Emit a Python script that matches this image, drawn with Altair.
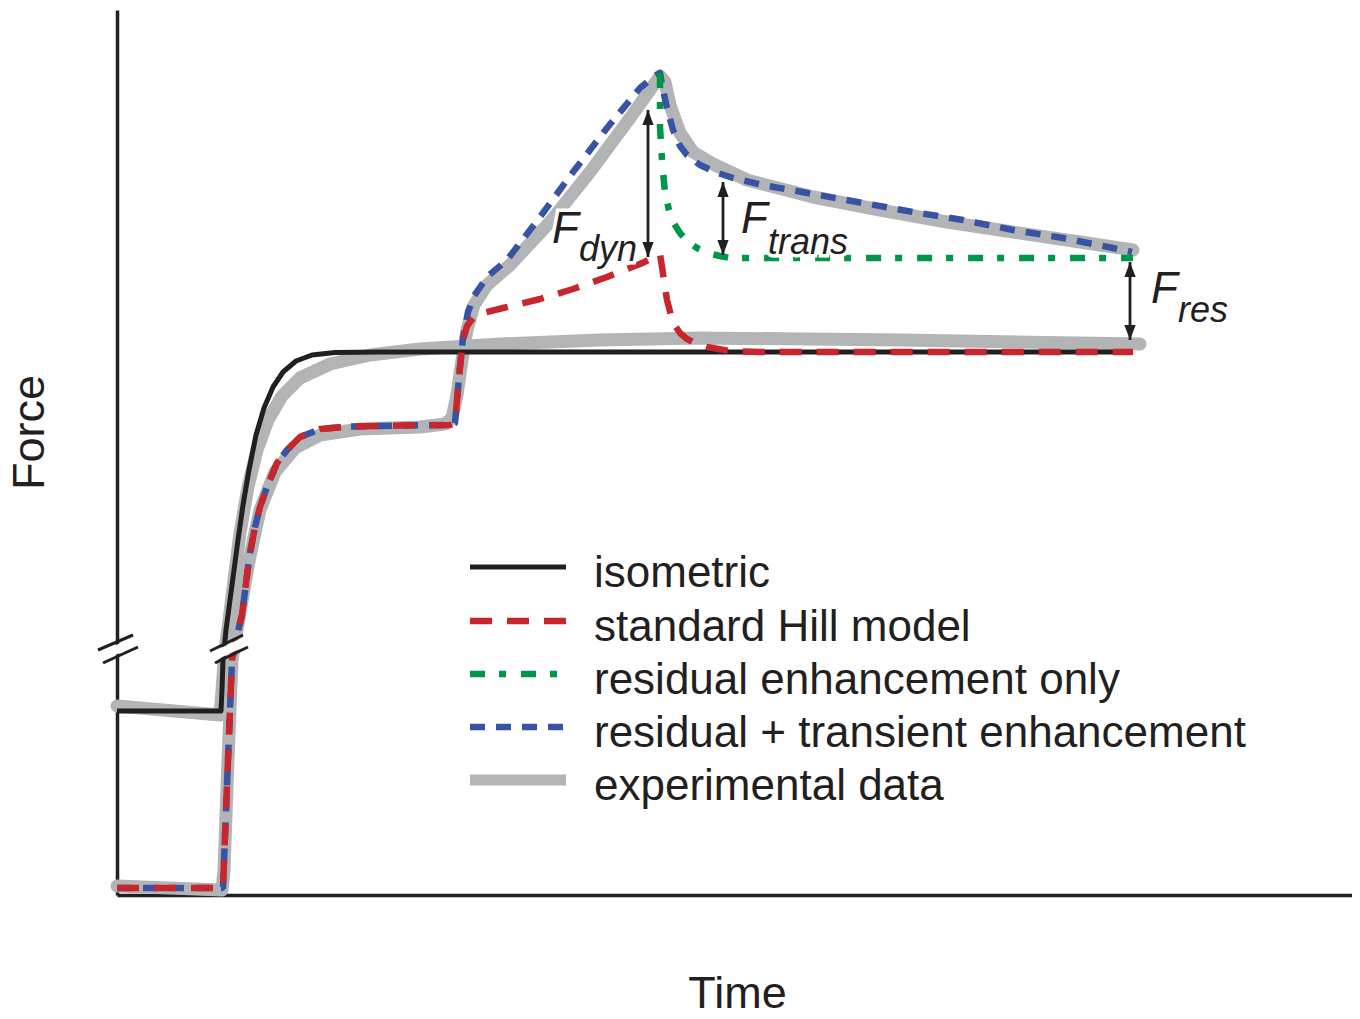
import altair as alt
import pandas as pd

# ---------------- data (time / force, arbitrary units) ----------------
iso_t = [117, 221, 222, 223, 226, 230, 234, 238, 243, 249, 256, 264, 273, 283, 296, 312, 335, 380, 1133]
iso_f = [184, 184, 205, 235, 265, 295, 325, 355, 390, 425, 460, 487, 508, 523, 534, 540, 542.5, 543, 543]

hill_t = [117, 222, 223, 228, 232, 237, 242, 246, 250, 255, 260, 267, 277, 287, 300, 320, 350, 400, 450, 455,
          457, 460, 463, 467, 473, 483, 503, 540, 573, 607, 640, 657, 660, 662, 667, 673, 680, 687, 697, 707,
          730, 760, 1133]
hill_f = [7, 7, 8, 135, 235, 260, 280, 312, 342, 368, 388, 408, 432, 445, 458, 466, 468.5, 469.5, 470, 472,
          495, 528, 555, 569, 577, 582, 587, 596, 606, 618, 631, 639, 641, 628, 595, 572, 562, 556, 551, 548,
          544, 543, 543]

full_t = [117, 222, 223, 228, 232, 237, 242, 246, 250, 255, 260, 267, 277, 287, 300, 320, 350, 400, 450, 455,
          457, 460, 463, 468, 474, 487, 507, 540, 573, 607, 640, 655, 660, 663, 667, 673, 680, 687, 700, 715,
          733, 763, 813, 863, 913, 963, 1013, 1063, 1113, 1132]
full_f = [7, 7, 8, 135, 235, 260, 280, 312, 342, 368, 388, 408, 432, 445, 458, 466, 468.5, 469.5, 470, 472,
          495, 528, 557, 583, 599, 618, 635, 678, 723, 767, 807, 819, 822, 805, 787, 765, 749, 740, 730, 723,
          717, 710, 701, 692, 683, 675, 665, 657, 647, 643]

res_t = [660, 660, 660, 662, 665, 669, 673, 680, 687, 697, 707, 720, 730, 1133]
res_f = [822, 795, 768, 735, 702, 685, 673, 662, 654, 647, 642, 639, 637, 637]

exp_iso_t = [117, 220, 222, 225, 229, 234, 240, 248, 257, 268, 282, 300, 330, 370, 420, 500, 600, 700, 900, 1140]
exp_iso_f = [189, 180, 205, 245, 275, 315, 362, 408, 445, 475, 499, 517, 531, 540, 546, 551, 555, 557, 555, 551]

exp_str_t = [117, 222, 224, 228, 232, 237, 243, 250, 260, 275, 295, 320, 360, 420, 445, 452, 457, 462, 467, 474,
             487, 510, 550, 590, 630, 650, 660, 665, 670, 680, 693, 713, 747, 813, 880, 947, 1013, 1080, 1133]
exp_str_f = [9, 5, 25, 135, 235, 265, 300, 339, 385, 423, 447, 460, 466, 468, 471, 477, 500, 535, 565, 590,
             610, 630, 673, 723, 777, 805, 819, 813, 790, 762, 743, 731, 715, 698, 685, 673, 663, 653, 645]

# force-difference arrows
arrow_t = [648, 723, 1130]
arrow_top = [785, 713, 633]
arrow_bot = [638, 640, 555]

# annotation labels
lab_main = ["F", "F", "F"]
lab_sub = ["dyn", "trans", "res"]
lab_main_t = [552, 741, 1151]
lab_main_f = [652, 662, 592]
lab_sub_t = [579, 768, 1178]
lab_sub_f = [634, 641, 573]

# axis-break marks
brk_t1 = [98, 103, 210, 215]
brk_f1 = [245, 232, 244, 232]
brk_t2 = [133, 138, 243, 248]
brk_f2 = [260, 248, 260, 248]
gap_t1 = [100, 212]
gap_f1 = [238, 238]
gap_t2 = [136, 246]
gap_f2 = [254, 254]

# legend
leg_labels = ["isometric", "standard Hill model", "residual enhancement only",
              "residual + transient enhancement", "experimental data"]
leg_line_f = [328, 274, 221, 168, 115]
leg_text_f = [308, 254, 201, 148, 95]
LEG_X0, LEG_X1, LEG_TX = 470, 566, 594

# ---------------- styles ----------------
INK = "#231f20"
RED = "#c8262d"
GREEN = "#00964a"
BLUE = "#3953a4"
GRAY = "#b3b4b6"
FONT = "Liberation Sans"

X = alt.Scale(domain=[117, 1352], nice=False, zero=False)
Y = alt.Scale(domain=[0, 885], nice=False, zero=False)

x_axis = alt.Axis(title="Time", labels=False, ticks=False, grid=False, domainColor=INK, domainWidth=3.5,
                  titleFont=FONT, titleFontSize=45, titleFontWeight="normal", titleColor=INK,
                  titleX=620, titleY=112, titleAlign="center", titleBaseline="alphabetic")
y_axis = alt.Axis(title="Force", labels=False, ticks=False, grid=False, domainColor=INK, domainWidth=3.5,
                  titleFont=FONT, titleFontSize=45, titleFontWeight="normal", titleColor=INK,
                  titleAngle=270, titleX=-74, titleY=422, titleAlign="center", titleBaseline="alphabetic")


def XE(field):
    return alt.X(field, scale=X, axis=x_axis)


def YE(field):
    return alt.Y(field, scale=Y, axis=y_axis)


def df_line(t, f):
    return pd.DataFrame({"t": t, "f": f, "i": list(range(len(t)))})


def line(t, f, color, width, dash=None, cap="butt"):
    kw = dict(color=color, strokeWidth=width, strokeCap=cap, strokeJoin="round", clip=False)
    if dash:
        kw["strokeDash"] = dash
    return alt.Chart(df_line(t, f)).mark_line(**kw).encode(x=XE("t:Q"), y=YE("f:Q"), order="i:Q")


def rules(t1, f1, t2, f2, color, width, cap="butt"):
    d = pd.DataFrame({"t1": t1, "f1": f1, "t2": t2, "f2": f2})
    return alt.Chart(d).mark_rule(color=color, strokeWidth=width, strokeCap=cap, clip=False).encode(
        x=XE("t1:Q"), y=YE("f1:Q"), x2="t2:Q", y2="f2:Q")


layers = []
# experimental data (gray, thick)
layers.append(line(exp_iso_t, exp_iso_f, GRAY, 13, cap="round"))
layers.append(line(exp_str_t, exp_str_f, GRAY, 13, cap="round"))
# models
layers.append(line(iso_t, iso_f, INK, 5))
layers.append(line(full_t, full_f, BLUE, 6.5, dash=[15, 11]))
layers.append(line(hill_t, hill_f, RED, 6.5, dash=[22, 15]))
layers.append(line(res_t, res_f, GREEN, 6.5, dash=[15, 14, 7, 15]))

# axis breaks
layers.append(rules(gap_t1, gap_f1, gap_t2, gap_f2, "white", 9))
layers.append(rules(brk_t1, brk_f1, brk_t2, brk_f2, INK, 3))

# arrows
layers.append(rules(arrow_t, arrow_top, arrow_t, arrow_bot, INK, 2.8))
arr_df = pd.DataFrame({"t": arrow_t, "top": arrow_top, "bot": arrow_bot})
layers.append(alt.Chart(arr_df).mark_point(shape="M0,0L0.75,2L-0.75,2Z", size=225, filled=True,
                                           color=INK, opacity=1, strokeWidth=0, clip=False).encode(
    x=XE("t:Q"), y=YE("top:Q")))
layers.append(alt.Chart(arr_df).mark_point(shape="M0,0L0.75,-2L-0.75,-2Z", size=225, filled=True,
                                           color=INK, opacity=1, strokeWidth=0, clip=False).encode(
    x=XE("t:Q"), y=YE("bot:Q")))

# labels (with white halo)
main_df = pd.DataFrame({"t": lab_main_t, "f": lab_main_f, "s": lab_main})
sub_df = pd.DataFrame({"t": lab_sub_t, "f": lab_sub_f, "s": lab_sub})
for d, fs in ((main_df, 44), (sub_df, 36)):
    layers.append(alt.Chart(d).mark_text(align="left", baseline="alphabetic", font=FONT, fontSize=fs,
                                         fontStyle="italic", stroke="white", strokeWidth=7, color="white",
                                         clip=False).encode(x=XE("t:Q"), y=YE("f:Q"), text="s:N"))
for d, fs in ((main_df, 44), (sub_df, 36)):
    layers.append(alt.Chart(d).mark_text(align="left", baseline="alphabetic", font=FONT, fontSize=fs,
                                         fontStyle="italic", color=INK, clip=False).encode(
        x=XE("t:Q"), y=YE("f:Q"), text="s:N"))

# legend
leg_styles = [(INK, 5, None), (RED, 6.5, [22, 15]), (GREEN, 6.5, [15, 14, 7, 15]),
              (BLUE, 6.5, [15, 11]), (GRAY, 11, None)]
for (c, w, dash), fy in zip(leg_styles, leg_line_f):
    layers.append(line([LEG_X0, LEG_X1], [fy, fy], c, w, dash=dash))
leg_df = pd.DataFrame({"t": [LEG_TX] * len(leg_labels), "f": leg_text_f, "s": leg_labels})
layers.append(alt.Chart(leg_df).mark_text(align="left", baseline="alphabetic", font=FONT, fontSize=44,
                                          color=INK, clip=False).encode(
    x=XE("t:Q"), y=YE("f:Q"), text="s:N"))

chart = alt.layer(*layers).properties(
    width=1235, height=885,
    autosize=alt.AutoSizeParams(type="none"),
    padding={"left": 109, "top": 2, "right": 0, "bottom": 114},
    background="white",
).configure_view(stroke=None)

chart.save("out.html", embed_options={"renderer": "svg", "actions": False})
